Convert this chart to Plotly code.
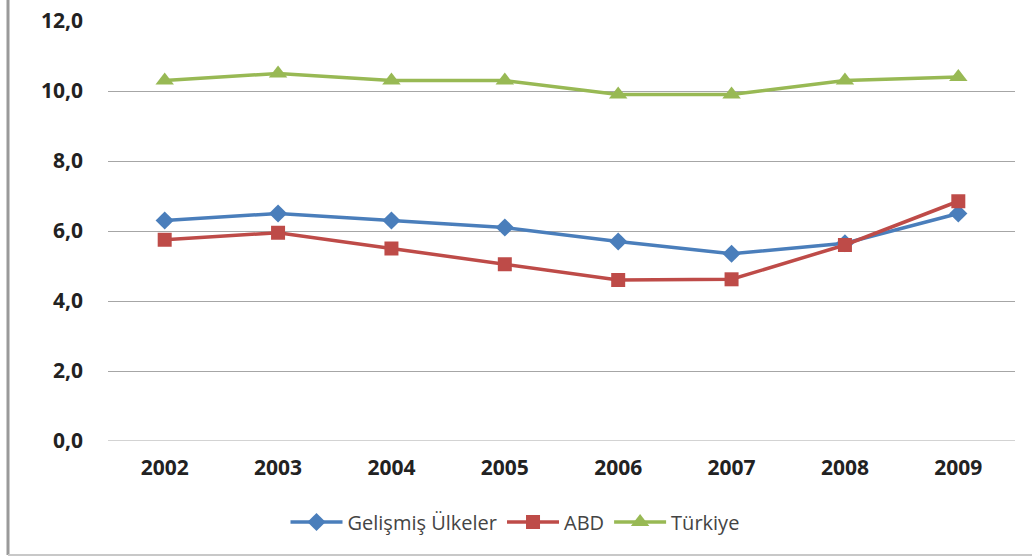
import plotly.graph_objects as go

years = ["2002", "2003", "2004", "2005", "2006", "2007", "2008", "2009"]
gelismis = [6.3, 6.5, 6.3, 6.1, 5.7, 5.35, 5.65, 6.5]
abd = [5.75, 5.95, 5.5, 5.05, 4.6, 4.62, 5.6, 6.85]
turkiye = [10.3, 10.5, 10.3, 10.3, 9.9, 9.9, 10.3, 10.4]
yticks = [0, 2, 4, 6, 8, 10, 12]
yticklabels = ["0,0", "2,0", "4,0", "6,0", "8,0", "10,0", "12,0"]

W, H = 1036, 558
ML, MR, MT, MB = 108, 21, 21, 117
pw = W - ML - MR
ph = H - MT - MB


def px_x(x):
    return (x - ML) / pw


def px_y(y):
    return (H - MB - y) / ph


fig = go.Figure()
fig.add_trace(go.Scatter(x=years, y=gelismis, name="Gelişmiş Ülkeler", mode="lines+markers",
                         line=dict(color="#4A7EBB", width=3.5),
                         marker=dict(symbol="diamond", size=14, color="#4A7EBB")))
fig.add_trace(go.Scatter(x=years, y=abd, name="ABD", mode="lines+markers",
                         line=dict(color="#BE4B48", width=3.5),
                         marker=dict(symbol="square", size=14, color="#BE4B48")))
fig.add_trace(go.Scatter(x=years, y=turkiye, name="Türkiye", mode="lines+markers",
                         line=dict(color="#98B954", width=3.5),
                         marker=dict(symbol="triangle-up", size=16, color="#98B954")))

tickfont = dict(size=21, color="#222", family="Open Sans, sans-serif", weight="bold")
fig.update_layout(
    width=W, height=H,
    margin=dict(l=ML, r=MR, t=MT, b=MB, autoexpand=False),
    paper_bgcolor="white", plot_bgcolor="white",
    font=dict(family="Open Sans, sans-serif", color="#222"),
    showlegend=True,
    legend=dict(orientation="h", x=px_x(515), xanchor="center",
                y=px_y(522), yanchor="middle", itemwidth=52,
                font=dict(size=20, color="#444"), traceorder="normal"),
    xaxis=dict(type="category", range=[-0.5, 7.5], showgrid=False, showline=False,
               ticks="", tickfont=tickfont, ticklabelstandoff=12, tickangle=0,
               automargin=False),
    yaxis=dict(range=[0, 12], tickvals=yticks, ticktext=yticklabels, showgrid=True,
               gridcolor="#A6A6A6", gridwidth=1, zeroline=False, showline=False, ticks="",
               tickfont=tickfont, ticklabelstandoff=24, automargin=False),
    shapes=[
        dict(type="line", xref="paper", yref="paper",
             x0=px_x(8), x1=px_x(8), y0=px_y(0), y1=px_y(555),
             line=dict(color="#9A9A9A", width=3)),
        dict(type="line", xref="paper", yref="paper",
             x0=px_x(8), x1=px_x(W - 4), y0=px_y(555), y1=px_y(555),
             line=dict(color="#C8C8C8", width=2)),
    ],
)
fig.add_hline(y=0, line=dict(color="#A6A6A6", width=1))
fig.write_html("out.html")
